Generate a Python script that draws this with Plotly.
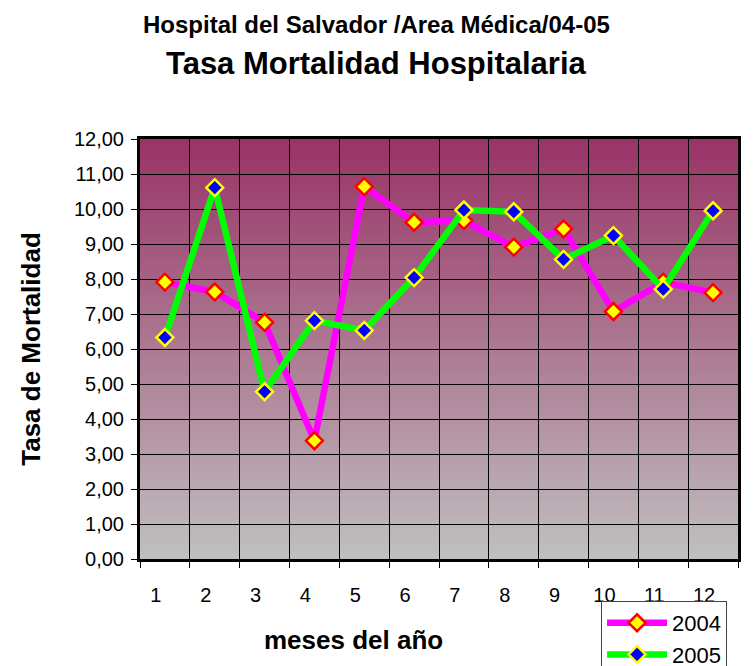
import plotly.graph_objects as go

months = [1, 2, 3, 4, 5, 6, 7, 8, 9, 10, 11, 12]
month_labels = ["1", "2", "3", "4", "5", "6", "7", "8", "9", "10", "11", "12"]
rate_2004 = [7.91, 7.63, 6.76, 3.38, 10.64, 9.62, 9.67, 8.91, 9.43, 7.07, 7.91, 7.61]
rate_2005 = [6.33, 10.61, 4.78, 6.81, 6.53, 8.04, 9.97, 9.92, 8.56, 9.24, 7.71, 9.95]
series_names = ["2004", "2005"]
y_ticks = [0, 1, 2, 3, 4, 5, 6, 7, 8, 9, 10, 11, 12]

FONT = "Liberation Sans, Arial, sans-serif"

fig = go.Figure()
fig.add_trace(go.Scatter(
    x=months, y=rate_2004, name=series_names[0], mode="lines+markers",
    line=dict(color="#FF00FF", width=6.5),
    marker=dict(symbol="diamond", size=13, color="#FFFF00",
                line=dict(color="#FF0000", width=2.5)),
))
fig.add_trace(go.Scatter(
    x=months, y=rate_2005, name=series_names[1], mode="lines+markers",
    line=dict(color="#00FF00", width=6.5),
    marker=dict(symbol="diamond", size=13, color="#0000FF",
                line=dict(color="#FFFF00", width=2.5)),
))

# vertical gradient background (plum at top to grey at bottom)
top = (153, 51, 102)
bot = (192, 192, 192)
N = 120
shapes = []
for i in range(N):
    t = (i + 0.5) / N
    c = tuple(round(bot[k] + (top[k] - bot[k]) * t) for k in range(3))
    shapes.append(dict(type="rect", xref="x domain", yref="y domain",
                       x0=0, x1=1, y0=i / N, y1=(i + 1) / N + 0.002,
                       fillcolor="rgb(%d,%d,%d)" % c, line=dict(width=0),
                       layer="below"))

fig.update_layout(
    width=754, height=666,
    margin=dict(l=140, r=16, t=139, b=107, autoexpand=False),
    paper_bgcolor="white",
    plot_bgcolor="rgba(0,0,0,0)",
    separators=",.",
    font=dict(family=FONT, color="black", size=20),
    shapes=shapes,
    showlegend=True,
    legend=dict(x=0.771, y=-(601 - 559) / 420, xanchor="left", yanchor="top",
                bgcolor="white", bordercolor="#444", borderwidth=1,
                font=dict(size=22, family=FONT), tracegroupgap=0,
                itemwidth=60),
    xaxis=dict(
        range=[0.5, 12.5], tickvals=months, ticktext=month_labels,
        ticks="", showgrid=False, zeroline=False,
        showline=True, linecolor="black", linewidth=3, mirror=True,
        ticklabelshift=-9, ticklabelstandoff=16,
        tickfont=dict(size=20, family=FONT),
        minor=dict(tickvals=[m - 0.5 for m in months] + [12.5],
                   ticks="outside", ticklen=6, tickcolor="black",
                   showgrid=True, gridcolor="black", gridwidth=1),
    ),
    yaxis=dict(
        range=[0, 12], tickvals=y_ticks, tickformat=".2f",
        ticks="outside", ticklen=6, tickcolor="black",
        showgrid=True, gridcolor="black", gridwidth=1, zeroline=False,
        showline=True, linecolor="black", linewidth=3, mirror=True,
        ticklabelstandoff=3,
        tickfont=dict(size=20, family=FONT),
        title=dict(text="<b>Tasa de Mortalidad</b>", standoff=26,
                   font=dict(size=26, family=FONT)),
    ),
    annotations=[
        dict(text="<b>Hospital del Salvador /Area Médica/04-05</b>",
             xref="paper", yref="paper", x=0.396, y=1 + (139 - 24) / 420,
             xanchor="center", yanchor="middle", showarrow=False,
             font=dict(size=24, family=FONT)),
        dict(text="<b>Tasa Mortalidad Hospitalaria</b>",
             xref="paper", yref="paper", x=0.396, y=1 + (139 - 64) / 420,
             xanchor="center", yanchor="middle", showarrow=False,
             font=dict(size=31, family=FONT)),
        dict(text="<b>meses del año</b>",
             xref="paper", yref="paper", x=(353 - 140) / 598, y=-(640 - 559) / 420,
             xanchor="center", yanchor="middle", showarrow=False,
             font=dict(size=26, family=FONT)),
    ],
)

fig.write_html("out.html", config={"displayModeBar": False},
               post_script="document.body.style.margin='0';")
